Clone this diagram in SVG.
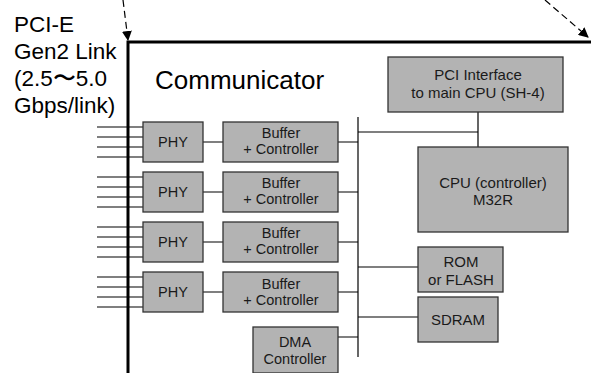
<svg xmlns="http://www.w3.org/2000/svg" width="592" height="373" viewBox="0 0 592 373">
<defs>
<marker id="ah" viewBox="0 0 10 10" refX="9" refY="5" markerWidth="10" markerHeight="10" markerUnits="userSpaceOnUse" orient="auto">
<path d="M0,0 L10,5 L0,10 Z" fill="#000"/>
</marker>
<style>
text{font-family:"Liberation Sans",Arial,sans-serif;fill:#1a1a1a}
.box{fill:#b3b3b3;stroke:#333;stroke-width:1.3}
.t{font-size:14.5px;text-anchor:middle}
.t15{font-size:15px;text-anchor:middle}
.big{font-size:22.5px;fill:#000}
.ln{stroke:#000;stroke-width:1.2;fill:none}
.thick{stroke:#000;stroke-width:3;fill:none}
.dash{stroke:#000;stroke-width:1.2;stroke-dasharray:7,4;fill:none}
</style>
</defs>
<rect width="592" height="373" fill="#fff"/>
<g id="frame">
<path class="thick" d="M128,373 V42 H591"/>
</g>
<g id="labels">
<text class="big" x="14" y="32">PCI-E</text>
<text class="big" x="14" y="59">Gen2 Link</text>
<text class="big" x="14" y="86">(2.5〜5.0</text>
<text class="big" x="14" y="113">Gbps/link)</text>
<text x="155" y="89" style="font-size:26px;fill:#000">Communicator</text>
</g>
<g id="connectors">
<path class="dash" d="M123,0 L128,40" marker-end="url(#ah)"/>
<path class="dash" d="M545,0 L588,37" marker-end="url(#ah)"/>
<path class="ln" d="M97,127H143M97,137H143M97,147H143M97,157H143"/>
<path class="ln" d="M97,177H143M97,187H143M97,197H143M97,207H143"/>
<path class="ln" d="M97,227H143M97,237H143M97,247H143M97,257H143"/>
<path class="ln" d="M97,277H143M97,287H143M97,297H143M97,307H143"/>
<path class="ln" d="M203,142H223M203,192H223M203,242H223M203,292H223"/>
<path class="ln" d="M338,142H358M338,192H358M338,242H358M338,292H358M338,337H358"/>
<path class="ln" d="M358,117V357"/>
<path class="ln" d="M358,132H478M478,112V147"/>
<path class="ln" d="M358,267H418M358,317H418"/>
</g>
<g id="phy1"><rect class="box" x="143" y="122" width="60" height="40"/><text class="t" x="173" y="147">PHY</text></g>
<g id="phy2"><rect class="box" x="143" y="172" width="60" height="40"/><text class="t" x="173" y="197">PHY</text></g>
<g id="phy3"><rect class="box" x="143" y="222" width="60" height="40"/><text class="t" x="173" y="247">PHY</text></g>
<g id="phy4"><rect class="box" x="143" y="272" width="60" height="40"/><text class="t" x="173" y="297">PHY</text></g>
<g id="buf1"><rect class="box" x="223" y="122" width="115" height="40"/><text class="t" x="281" y="138">Buffer</text><text class="t" x="281" y="154">+ Controller</text></g>
<g id="buf2"><rect class="box" x="223" y="172" width="115" height="40"/><text class="t" x="281" y="188">Buffer</text><text class="t" x="281" y="204">+ Controller</text></g>
<g id="buf3"><rect class="box" x="223" y="222" width="115" height="40"/><text class="t" x="281" y="238">Buffer</text><text class="t" x="281" y="254">+ Controller</text></g>
<g id="buf4"><rect class="box" x="223" y="272" width="115" height="40"/><text class="t" x="281" y="289">Buffer</text><text class="t" x="281" y="305">+ Controller</text></g>
<g id="dma"><rect class="box" x="253" y="327" width="85" height="46"/><text class="t" x="295" y="347">DMA</text><text class="t" x="295" y="364">Controller</text></g>
<g id="pci"><rect class="box" x="388" y="57" width="175" height="55"/><text class="t15" x="478" y="80">PCI Interface</text><text class="t15" x="478" y="98">to main CPU (SH-4)</text></g>
<g id="cpu"><rect class="box" x="418" y="147" width="150" height="85"/><text class="t15" x="493" y="188">CPU (controller)</text><text class="t15" x="493" y="205">M32R</text></g>
<g id="rom"><rect class="box" x="418" y="247" width="85" height="45"/><text class="t15" x="461" y="267">ROM</text><text class="t15" x="461" y="285">or FLASH</text></g>
<g id="sdram"><rect class="box" x="418" y="297" width="80" height="45"/><text class="t15" x="458" y="325">SDRAM</text></g>
</svg>
